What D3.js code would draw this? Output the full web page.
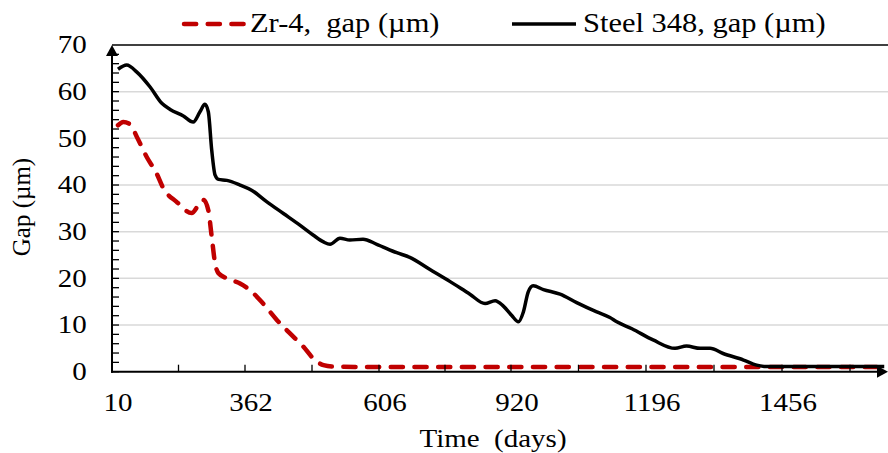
<!DOCTYPE html>
<html>
<head>
<meta charset="utf-8">
<script src="https://cdn.jsdelivr.net/npm/d3@7"></script>
<style>
  html, body { margin: 0; padding: 0; background: #fff; }
  svg text { font-family: "Liberation Serif", "Times New Roman", serif; fill: #000; white-space: pre; }
</style>
</head>
<body>
<div id="container"></div>
<script>
// tick labels on the category axis (days) and the minor ticks between them
const timeLabels = [10, 362, 606, 920, 1196, 1456];
const timeMinor = [186, 484, 763, 1058, 1326, 1586];
const gapTicks = [0, 10, 20, 30, 40, 50, 60, 70];

// Zr-4 gap (um)
const zrDays = [10, 24, 42, 60, 86, 112, 130, 165, 205, 223, 236, 249, 258, 267, 276, 298, 333, 359, 384, 409,
  433, 457, 475, 494, 512, 600, 900, 1200, 1500, 1640];
const zrGap = [52.8, 53.5, 53.0, 50.3, 46.0, 42.5, 39.3, 36.4, 34.0, 35.7, 36.8, 34.6, 28.9, 23.2, 21.1, 20.0, 18.9, 17.5, 14.6, 11.1,
  8.2, 5.4, 2.9, 1.4, 1.1, 1.0, 1.0, 1.0, 1.0, 1.0];

// Steel 348 gap (um)
const steelDays = [10, 33, 60, 95, 126, 148, 183, 209, 227, 240, 249, 258, 267, 276, 298, 333, 363, 391, 421, 451,
  475, 494, 506, 524, 542, 566, 591, 634, 665, 713, 761, 808, 844, 868, 887, 907, 923, 933, 943, 953,
  974, 1008, 1042, 1083, 1110, 1124, 1155, 1198, 1240, 1262, 1288, 1307, 1332, 1371, 1396, 1415, 1500, 1640];
const steelGap = [64.8, 65.7, 64.2, 61.0, 57.5, 56.2, 54.8, 53.5, 55.7, 57.3, 55.7, 47.5, 42.1, 41.2, 41.0, 40.0, 38.9, 36.4, 33.9, 31.4,
  29.3, 27.8, 27.3, 28.6, 28.2, 28.4, 27.3, 25.5, 24.5, 21.9, 19.3, 16.6, 14.6, 15.2, 14.1, 12.1, 10.7, 12.8, 17.1, 18.4,
  17.6, 16.6, 14.8, 12.8, 11.6, 10.7, 9.2, 6.8, 5.0, 5.5, 5.0, 5.0, 3.9, 2.5, 1.4, 1.1, 1.1, 1.1];

const W = 888, H = 453;
const pLeft = 112, pRight = 888, pBottom = 371.7, pTop = 45;
const stretch = 1.16; // text in the picture is a bit wide

const svg = d3.select("#container")
  .append("svg")
  .attr("width", W)
  .attr("height", H);

// category axis: labels evenly spaced, not linear in days
let x = d3.scaleLinear()
  .domain(timeLabels)
  .range([118, 251, 385, 517, 652, 788]);
let y = d3.scaleLinear().domain([0, 70]).range([pBottom, pTop]);

// gridlines
svg.append("g")
  .selectAll("line")
  .data(gapTicks.filter(d => d > 0 && d < 70))
  .join("line")
  .attr("x1", pLeft).attr("x2", pRight)
  .attr("y1", d => y(d)).attr("y2", d => y(d))
  .attr("stroke", "#d9d9d9")
  .attr("stroke-width", 1.5);

svg.append("line")
  .attr("x1", pLeft).attr("x2", pRight)
  .attr("y1", y(70)).attr("y2", y(70))
  .attr("stroke", "#000")
  .attr("stroke-width", 1.3);

let line = d3.line()
  .x(d => x(d[0]))
  .y(d => y(d[1]))
  .curve(d3.curveMonotoneX);

svg.append("path")
  .datum(zrDays.map((d, i) => [d, zrGap[i]]))
  .attr("d", line)
  .attr("fill", "none")
  .attr("stroke", "#c00000")
  .attr("stroke-width", 4.5)
  .attr("stroke-linecap", "round")
  .attr("stroke-dasharray", "12.2,11.5");

svg.append("path")
  .datum(steelDays.map((d, i) => [d, steelGap[i]]))
  .attr("d", line)
  .attr("fill", "none")
  .attr("stroke", "#000")
  .attr("stroke-width", 3.5)
  .attr("stroke-linejoin", "round");

// y axis with arrow
svg.append("line")
  .attr("x1", pLeft).attr("x2", pLeft)
  .attr("y1", pBottom + 1).attr("y2", pTop + 8)
  .attr("stroke", "#000").attr("stroke-width", 2);
svg.append("path")
  .attr("d", `M${pLeft},${pTop} L${pLeft - 6},${pTop + 11} L${pLeft + 6},${pTop + 11} Z`)
  .attr("fill", "#000");
svg.append("g")
  .selectAll("line")
  .data(d3.range(0, 70, 2))
  .join("line")
  .attr("x1", pLeft).attr("x2", pLeft + 7)
  .attr("y1", d => y(d)).attr("y2", d => y(d))
  .attr("stroke", "#000").attr("stroke-width", 1.3);

// x axis with arrow
svg.append("line")
  .attr("x1", pLeft - 1).attr("x2", pRight - 8)
  .attr("y1", pBottom).attr("y2", pBottom)
  .attr("stroke", "#000").attr("stroke-width", 2);
svg.append("path")
  .attr("d", `M${pRight},${pBottom} L${pRight - 11},${pBottom - 6} L${pRight - 11},${pBottom + 6} Z`)
  .attr("fill", "#000");
svg.append("g")
  .selectAll("line")
  .data(timeLabels.concat(timeMinor))
  .join("line")
  .attr("x1", d => x(d) - 6).attr("x2", d => x(d) - 6)
  .attr("y1", pBottom).attr("y2", pBottom - 7)
  .attr("stroke", "#000").attr("stroke-width", 1.3);

// tick labels
svg.append("g")
  .selectAll("text")
  .data(timeLabels)
  .join("text")
  .attr("transform", d => `translate(${x(d)},411.3) scale(${stretch},1)`)
  .attr("text-anchor", "middle")
  .attr("font-size", 25)
  .text(d => d);

svg.append("g")
  .selectAll("text")
  .data(gapTicks)
  .join("text")
  .attr("transform", d => `translate(86.7,${y(d) + 8.3}) scale(${stretch},1)`)
  .attr("text-anchor", "end")
  .attr("font-size", 25)
  .text(d => d);

// axis titles
svg.append("text")
  .attr("transform", `translate(493,447) scale(${stretch},1)`)
  .attr("text-anchor", "middle")
  .attr("font-size", 25)
  .text("Time  (days)");

svg.append("text")
  .attr("transform", "translate(30,207) rotate(-90)")
  .attr("text-anchor", "middle")
  .attr("font-size", 25)
  .text("Gap (µm)");

// legend
svg.append("line")
  .attr("x1", 184).attr("x2", 244.4)
  .attr("y1", 24).attr("y2", 24)
  .attr("stroke", "#c00000")
  .attr("stroke-width", 4.5)
  .attr("stroke-linecap", "round")
  .attr("stroke-dasharray", "12.2,11.5");
svg.append("text")
  .attr("transform", `translate(250,31.7) scale(1.15,1)`)
  .attr("font-size", 26.5)
  .text("Zr-4,  gap (µm)");

svg.append("line")
  .attr("x1", 512).attr("x2", 576)
  .attr("y1", 24).attr("y2", 24)
  .attr("stroke", "#000")
  .attr("stroke-width", 3.5);
svg.append("text")
  .attr("transform", `translate(583,31.7) scale(1.15,1)`)
  .attr("font-size", 26.5)
  .text("Steel 348, gap (µm)");
</script>
</body>
</html>
